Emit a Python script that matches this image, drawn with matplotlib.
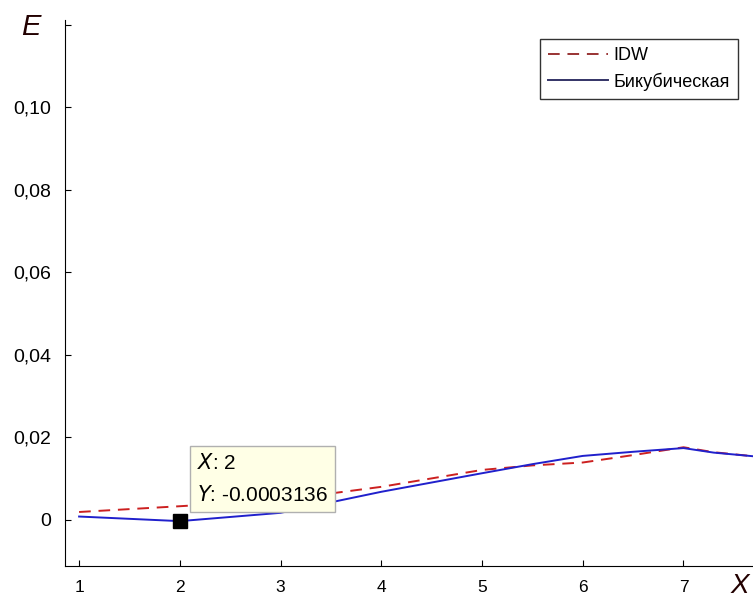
import matplotlib
matplotlib.use("Agg")
import matplotlib.pyplot as plt

plt.rcParams['font.family'] = ['Liberation Sans', 'DejaVu Sans']

# данные
x_vals = [1, 2, 3, 4, 5, 5.5, 6, 6.5, 7, 7.3, 7.7]
idw = [0.0019, 0.0033, 0.0048, 0.0080, 0.0121, 0.0132, 0.0139, 0.0157, 0.0176, 0.0164, 0.0154]
bicubic = [0.0008, -0.0003136, 0.0017, 0.0068, 0.0113, 0.0135, 0.0155, 0.0165, 0.0174, 0.0163, 0.0154]
y_ticks = [0, 0.02, 0.04, 0.06, 0.08, 0.10, 0.12]
y_labels = ['0', '0,02', '0,04', '0,06', '0,08', '0,10', '']
x_ticks = [1, 2, 3, 4, 5, 6, 7]
tip_x, tip_y = 2, -0.0003136

fig = plt.figure(figsize=(7.53, 6.01), dpi=100)
ax = fig.add_axes([0.0863, 0.0582, 0.9137, 0.9085])

ax.plot(x_vals, idw, color='#cc2020', linestyle=(0, (6, 4)), linewidth=1.4, label='IDW')
ax.plot(x_vals, bicubic, color='#2020cc', linewidth=1.4, label='Бикубическая')

# маркер подсказки
ax.plot([tip_x], [tip_y], 's', color='black', markersize=10, zorder=5)
ax.text(2.17, 0.0037, '$\\it{X}$: 2\n$\\it{Y}$: -0.0003136', fontsize=15,
        va='bottom', ha='left', linespacing=1.7, zorder=6,
        bbox=dict(boxstyle='square,pad=0.35', facecolor='#ffffe6', edgecolor='#b0b0b0'))

ax.set_xlim(0.86, 7.69)
ax.set_ylim(-0.0112, 0.1212)
ax.set_xticks(x_ticks)
ax.set_yticks(y_ticks)
ax.set_yticklabels(y_labels)

ax.spines['top'].set_visible(False)
ax.spines['right'].set_visible(False)
ax.tick_params(direction='in', length=4, pad=10)
ax.tick_params(axis='x', labelsize=12.5)
ax.tick_params(axis='y', labelsize=14)

leg = ax.legend(loc='upper right', bbox_to_anchor=(0.978, 0.965), fontsize=13,
                frameon=True, fancybox=False, edgecolor='black', handlelength=3.3,
                borderaxespad=0.0, handletextpad=0.3, borderpad=0.45, labelspacing=0.45)
leg.get_frame().set_linewidth(1.0)
leg.get_lines()[0].set_color('#993333')
leg.get_lines()[1].set_color('#333366')

fig.text(31 / 753, 1 - 27 / 601, 'E', fontsize=21, style='italic', color='#220000',
         ha='center', va='center')
fig.text(740 / 753, 1 - 586 / 601, 'X', fontsize=20, style='italic', color='#220000',
         ha='center', va='center')

fig.savefig('out.png', dpi=100)
